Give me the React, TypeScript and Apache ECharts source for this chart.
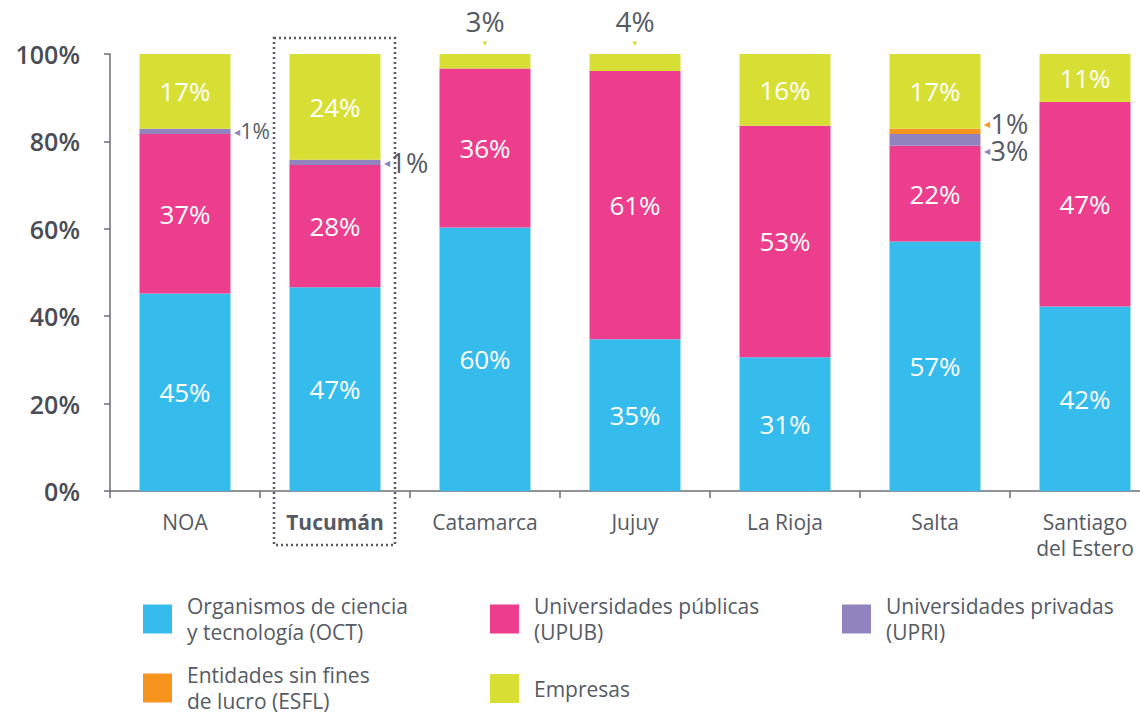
import React, { useEffect, useRef } from "react";
import * as echarts from "echarts";

const categories = ["NOA", "Tucumán", "Catamarca", "Jujuy", "La Rioja", "Salta", "Santiago\ndel Estero"];
const seriesNames = [
  "Organismos de ciencia\ny tecnología (OCT)",
  "Universidades públicas\n(UPUB)",
  "Universidades privadas\n(UPRI)",
  "Entidades sin fines\nde lucro (ESFL)",
  "Empresas",
];
const oct = [45.2, 46.6, 60.3, 34.7, 30.6, 57.1, 42.2];
const upub = [36.5, 28.0, 36.4, 61.4, 53.0, 21.9, 46.8];
const upri = [1.2, 1.2, 0, 0, 0, 2.7, 0];
const esfl = [0, 0, 0, 0, 0, 1.2, 0];
const empresas = [17.1, 24.2, 3.3, 3.9, 16.4, 17.1, 11.0];
const yTicks = [0, 20, 40, 60, 80, 100];

const colors = ["#36BCEC", "#EC3E8C", "#9184BE", "#F7941E", "#D7DF35"];
const TEXT = "#555a64";
const FONT = "Open Sans";

export default function App() {
  const ref = useRef<HTMLDivElement>(null);
  useEffect(() => {
    if (!ref.current) return;
    document.body.style.overflow = "hidden";
    document.documentElement.style.overflow = "hidden";
    const chart = echarts.init(ref.current, null, { renderer: "svg" });
    const all = [oct, upub, upri, esfl, empresas];

    const makeData = (arr: number[], si: number) =>
      arr.map((v, ci) => {
        if (v <= 0) return { value: v, label: { show: false } };
        if (v >= 5) {
          return {
            value: v,
            label: {
              show: true,
              position: "inside",
              color: "#ffffff",
              fontSize: 26,
              fontFamily: FONT,
              formatter: () => Math.round(v) + "%",
            },
          };
        }
        if (si === 4) {
          return {
            value: v,
            label: {
              show: true,
              position: "top",
              distance: 5,
              formatter: () => "{v|" + Math.round(v) + "%}\n{t|▼}",
              rich: {
                v: { fontSize: 28, color: TEXT, fontFamily: FONT, lineHeight: 28, align: "center" },
                t: { fontSize: 8, color: colors[4], lineHeight: 14, align: "center" },
              },
            },
          };
        }
        const small = ci === 0;
        let offset = [0, 0];
        if (ci === 5 && si === 3) offset = [0, -8];
        if (ci === 5 && si === 2) offset = [0, 11];
        return {
          value: v,
          label: {
            show: true,
            position: "right",
            distance: 3,
            offset,
            formatter: () => "{t|◀}{v|" + Math.round(v) + "%}",
            rich: {
              t: { fontSize: 8, color: colors[si], padding: [0, 1, 0, 0] },
              v: { fontSize: small ? 21 : 27, color: TEXT, fontFamily: FONT, lineHeight: small ? 22 : 24 },
            },
          },
        };
      });

    const legendPos = [
      { left: 143, top: 593 },
      { left: 490, top: 593 },
      { left: 842, top: 593 },
      { left: 143, top: 662 },
      { left: 490, top: 674 },
    ];

    chart.setOption({
      animation: false,
      textStyle: { fontFamily: FONT },
      grid: { left: 110, top: 54, width: 1050, height: 437 },
      legend: seriesNames.map((n, i) => ({
        data: [n],
        left: legendPos[i].left,
        top: legendPos[i].top,
        padding: 0,
        icon: "rect",
        itemWidth: 29,
        itemHeight: 29,
        selectedMode: false,
        textStyle: {
          fontSize: 21,
          lineHeight: 26,
          color: TEXT,
          fontFamily: FONT,
          padding: [0, 0, 0, 10],
        },
      })),
      xAxis: {
        type: "category",
        data: categories,
        axisLine: { lineStyle: { color: "#6b6e75", width: 1.5 } },
        axisTick: { show: true, length: 7, lineStyle: { color: "#6b6e75", width: 1.5 } },
        axisLabel: {
          interval: 0,
          margin: 18,
          fontSize: 21,
          lineHeight: 26,
          color: TEXT,
          fontFamily: FONT,
          formatter: (val: string) => (val === "Tucumán" ? "{b|" + val + "}" : val),
          rich: {
            b: { fontSize: 21, fontWeight: "bold", color: TEXT, fontFamily: FONT },
          },
        },
      },
      yAxis: {
        type: "value",
        min: yTicks[0],
        max: yTicks[yTicks.length - 1],
        interval: yTicks[1] - yTicks[0],
        splitLine: { show: false },
        axisLine: { show: true, lineStyle: { color: "#6b6e75", width: 1.5 } },
        axisTick: { show: true, length: 6, lineStyle: { color: "#6b6e75", width: 1.5 } },
        axisLabel: {
          margin: 30,
          fontSize: 25,
          fontWeight: 600,
          color: "#4a4d55",
          fontFamily: FONT,
          formatter: (v: number) => v + "%",
        },
      },
      series: all.map((arr, si) => ({
        name: seriesNames[si],
        type: "bar",
        stack: "total",
        barWidth: 91,
        itemStyle: { color: colors[si] },
        data: makeData(arr, si),
      })),
      graphic: [
        {
          type: "rect",
          shape: { x: 274, y: 38, width: 121, height: 507 },
          style: { fill: "none", stroke: TEXT, lineWidth: 2.5, lineDash: [2, 3] },
          silent: true,
        },
      ],
    });
    return () => chart.dispose();
  }, []);
  return (
    <div
      ref={ref}
      style={{ position: "absolute", left: 0, top: 0, width: 1170, height: 714 }}
    />
  );
}
